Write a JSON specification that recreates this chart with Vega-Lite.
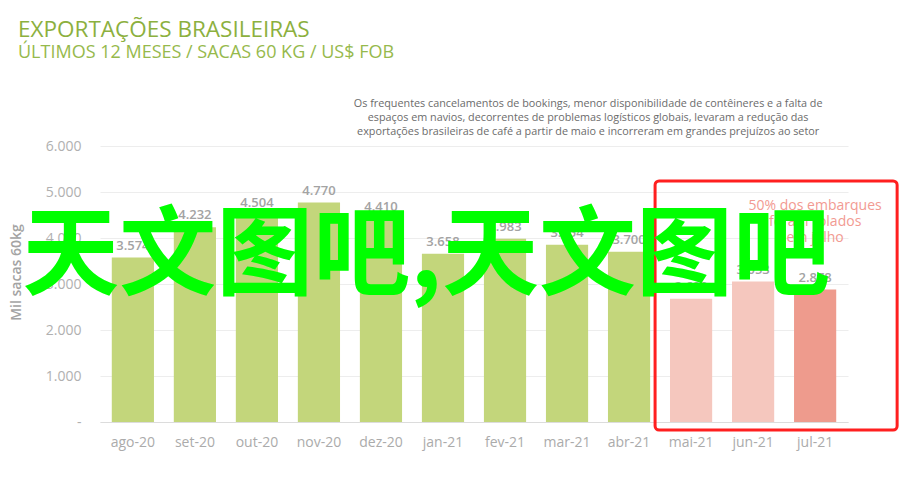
{
  "$schema": "https://vega.github.io/schema/vega-lite/v6.json",
  "width": 748,
  "height": 276,
  "autosize": {"type": "none"},
  "padding": {"left": 100, "top": 146, "right": 65, "bottom": 55},
  "background": "white",
  "title": {
    "text": "EXPORTAÇÕES BRASILEIRAS",
    "subtitle": "ÚLTIMOS 12 MESES / SACAS 60 KG / US$ FOB",
    "anchor": "start",
    "frame": "group",
    "dx": -82,
    "offset": 36,
    "font": "Open Sans",
    "fontSize": 22.5,
    "fontWeight": "normal",
    "color": "#8cb03e",
    "subtitleFont": "Open Sans",
    "subtitleFontSize": 18,
    "subtitleColor": "#96b94c",
    "subtitlePadding": 3
  },
  "data": {
    "values": [
      {"mes": "ago-20", "sacas": 3574, "grupo": "normal"},
      {"mes": "set-20", "sacas": 4232, "grupo": "normal"},
      {"mes": "out-20", "sacas": 4504, "grupo": "normal"},
      {"mes": "nov-20", "sacas": 4770, "grupo": "normal"},
      {"mes": "dez-20", "sacas": 4410, "grupo": "normal"},
      {"mes": "jan-21", "sacas": 3658, "grupo": "normal"},
      {"mes": "fev-21", "sacas": 3983, "grupo": "normal"},
      {"mes": "mar-21", "sacas": 3854, "grupo": "normal"},
      {"mes": "abr-21", "sacas": 3700, "grupo": "normal"},
      {"mes": "mai-21", "sacas": 2680, "grupo": "rolado"},
      {"mes": "jun-21", "sacas": 3053, "grupo": "rolado"},
      {"mes": "jul-21", "sacas": 2878, "grupo": "julho"}
    ]
  },
  "layer": [
    {
      "mark": {"type": "bar"},
      "encoding": {
        "x": {
          "field": "mes",
          "type": "nominal",
          "sort": null,
          "scale": {
            "domain": ["ago-20", "set-20", "out-20", "nov-20", "dez-20", "jan-21", "fev-21", "mar-21", "abr-21", "mai-21", "jun-21", "jul-21"],
            "paddingInner": 0.32,
            "paddingOuter": 0.19
          },
          "axis": {
            "title": null,
            "labelAngle": 0,
            "labelFontSize": 14,
            "labelColor": "#ababab",
            "labelPadding": 13,
            "ticks": false,
            "domain": true,
            "domainColor": "#dcdcdc",
            "grid": false
          }
        },
        "y": {
          "field": "sacas",
          "type": "quantitative",
          "scale": {"domain": [0, 6000], "nice": false},
          "axis": {
            "title": "Mil sacas 60kg",
            "titleFontSize": 14,
            "titleFontWeight": 600,
            "titleColor": "#a3a3a3",
            "titleX": -77,
            "titleY": 126,
            "titleAlign": "center",
            "titleAngle": -90,
            "values": [0, 1000, 2000, 3000, 4000, 5000, 6000],
            "format": ",.0f",
            "labelExpr": "datum.value == 0 ? '-' : datum.label",
            "labelFontSize": 14,
            "labelColor": "#b0b0b0",
            "labelPadding": 19,
            "ticks": false,
            "domain": false,
            "grid": true,
            "gridColor": "#ededed"
          }
        },
        "color": {
          "field": "grupo",
          "type": "nominal",
          "scale": {"domain": ["normal", "rolado", "julho"], "range": ["#c3d67b", "#f5c7be", "#ee9b8d"]},
          "legend": null
        }
      }
    },
    {
      "mark": {"type": "text", "baseline": "bottom", "dy": -5, "fontSize": 13, "fontWeight": 600, "color": "#a3a3a3"},
      "encoding": {
        "x": {"field": "mes", "type": "nominal", "sort": null},
        "y": {"field": "sacas", "type": "quantitative"},
        "text": {"field": "sacas", "type": "quantitative", "format": ",.0f"}
      }
    },
    {
      "data": {"values": [{"rotulo": "caixa"}]},
      "mark": {"type": "rect", "fill": null, "filled": false, "stroke": "#ff1f1f", "strokeWidth": 3, "cornerRadius": 4, "xOffset": -36, "x2Offset": 82},
      "encoding": {
        "x": {"datum": "mai-21", "type": "nominal"},
        "x2": {"datum": "jul-21"},
        "y": {"datum": 5240, "type": "quantitative"},
        "y2": {"datum": -175}
      }
    },
    {
      "data": {"values": [{"nota": ["Os frequentes cancelamentos de bookings, menor disponibilidade de contêineres e a falta de", "espaços em navios, decorrentes de problemas logísticos globais, levaram a redução das", "exportações brasileiras de café a partir de maio e incorreram em grandes prejuízos ao setor"]}]},
      "mark": {"type": "text", "align": "center", "baseline": "middle", "fontSize": 10.8, "lineHeight": 14, "color": "#6b6b6b"},
      "encoding": {
        "x": {"datum": "mar-21", "type": "nominal", "bandPosition": 1},
        "y": {"datum": 6913, "type": "quantitative"},
        "text": {"field": "nota"}
      }
    },
    {
      "data": {"values": [{"nota": ["50% dos embarques", "foram rolados", "em julho"]}]},
      "mark": {"type": "text", "align": "center", "baseline": "middle", "fontSize": 14, "lineHeight": 16, "color": "#f29a92"},
      "encoding": {
        "x": {"datum": "jul-21", "type": "nominal"},
        "y": {"datum": 4695, "type": "quantitative"},
        "text": {"field": "nota"}
      }
    },
    {
      "data": {"values": [{"marca": "天文图吧,天文图吧"}]},
      "mark": {"type": "text", "align": "center", "baseline": "middle", "font": "Noto Sans CJK SC", "fontSize": 97, "fontWeight": "bold", "color": "#00ff00"},
      "encoding": {
        "x": {"datum": "jan-21", "type": "nominal", "bandPosition": 0.1},
        "y": {"datum": 3570, "type": "quantitative"},
        "text": {"field": "marca"}
      }
    }
  ],
  "config": {
    "locale": {"number": {"decimal": ",", "thousands": ".", "grouping": [3], "currency": ["R$ ", ""]}},
    "font": "Open Sans",
    "view": {"stroke": null}
  }
}
